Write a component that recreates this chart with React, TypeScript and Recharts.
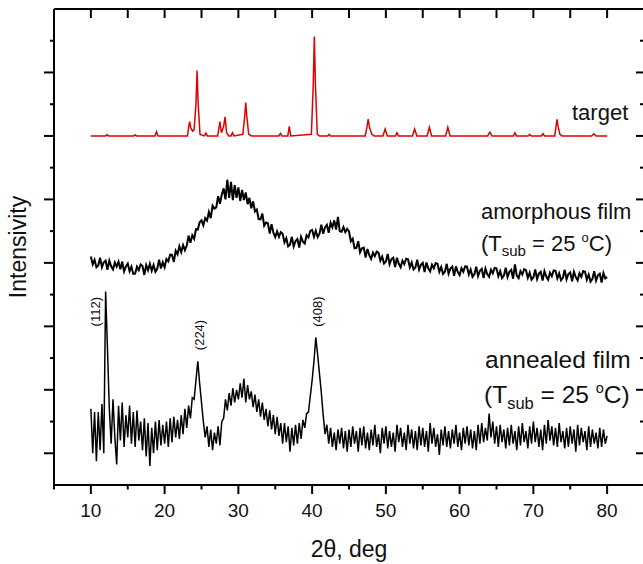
import { LineChart, Line, XAxis, YAxis } from 'recharts';

const FONT = 'Arial, "Liberation Sans", sans-serif';
const INK = '#111';

// 2θ grid of the two film scans: 10° .. 80° every 0.25°
const X_START = 10;
const X_STEP = 0.25;

const X_TICKS = [5, 10, 15, 20, 25, 30, 35, 40, 45, 50, 55, 60, 65, 70, 75, 80, 85];
const X_LABELLED = [10, 20, 30, 40, 50, 60, 70, 80];
const Y_TICKS = [1, 2, 3, 4, 5, 6, 7, 8, 9, 10, 11, 12, 13, 14];

// amorphous film (offset curve, middle)
const amorphousY = [
  7.20, 6.95, 7.09, 6.86, 6.92, 7.16, 6.86, 7.02, 7.07, 6.78, 7.07, 6.89, 6.79, 7.01, 6.88, 7.04, 6.80, 7.04, 6.73, 6.89, // 10-14
  6.98, 6.73, 6.88, 6.65, 6.66, 6.88, 6.77, 6.95, 6.90, 6.62, 6.93, 6.77, 6.97, 6.75, 6.93, 6.72, 6.82, 7.10, 6.82, 7.02, // 15-19
  6.86, 7.12, 7.05, 7.26, 7.25, 7.03, 7.38, 7.27, 7.52, 7.34, 7.56, 7.40, 7.54, 7.86, 7.63, 7.87, 7.76, 8.06, 8.05, 8.28, // 20-24
  8.34, 8.18, 8.41, 8.33, 8.60, 8.41, 8.80, 8.71, 8.75, 9.10, 8.86, 9.15, 9.35, 9.00, 9.62, 9.05, 9.55, 8.98, 9.45, 9.05, // 25-29
  9.38, 8.95, 9.30, 8.98, 9.22, 8.85, 9.05, 8.72, 8.94, 8.62, 8.68, 8.38, 8.37, 8.55, 8.17, 8.27, 8.25, 7.92, 8.22, 7.95, // 30-34
  7.81, 7.99, 7.82, 7.97, 7.92, 7.65, 7.78, 7.52, 7.57, 7.82, 7.52, 7.69, 7.75, 7.48, 7.82, 7.67, 7.61, 7.87, 7.80, 8.01, // 35-39
  8.04, 7.82, 8.01, 7.81, 7.92, 8.20, 7.92, 8.12, 8.20, 7.95, 8.27, 8.12, 8.34, 8.05, 8.45, 8.00, 7.98, 8.13, 7.97, 8.07, // 40-44
  7.99, 7.68, 7.76, 7.46, 7.47, 7.68, 7.33, 7.46, 7.48, 7.17, 7.44, 7.24, 7.12, 7.32, 7.21, 7.35, 7.32, 7.07, 7.20, 6.98, // 45-49
  7.04, 7.28, 6.96, 7.12, 7.16, 6.87, 7.16, 6.97, 6.86, 7.07, 6.96, 7.13, 7.11, 6.86, 7.01, 6.79, 6.85, 7.10, 6.79, 6.94, // 50-54
  7.00, 6.71, 7.01, 6.83, 6.73, 6.94, 6.83, 6.99, 6.97, 6.72, 6.87, 6.65, 6.72, 6.97, 6.66, 6.82, 6.88, 6.59, 6.89, 6.71, // 55-59
  6.61, 6.83, 6.72, 6.89, 6.88, 6.63, 6.79, 6.56, 6.64, 6.88, 6.58, 6.75, 6.81, 6.52, 6.82, 6.65, 6.56, 6.78, 6.67, 6.84, // 60-64
  6.83, 6.58, 6.74, 6.52, 6.60, 6.85, 6.55, 6.72, 6.78, 6.50, 6.95, 6.60, 6.52, 6.74, 6.63, 6.80, 6.77, 6.53, 6.69, 6.47, // 65-69
  6.54, 6.79, 6.49, 6.66, 6.72, 6.44, 6.74, 6.57, 6.47, 6.69, 6.58, 6.76, 6.75, 6.51, 6.67, 6.45, 6.53, 6.78, 6.48, 6.65, // 70-74
  6.70, 6.42, 6.72, 6.55, 6.45, 6.67, 6.56, 6.74, 6.72, 6.47, 6.63, 6.41, 6.49, 6.74, 6.44, 6.61, 6.66, 6.38, 6.68, 6.51, // 75-79
  6.55,
];

// annealed film (bottom curve)
const annealedY = [
  2.40, 1.00, 2.30, 0.75, 2.30, 1.10, 2.55, 1.00, 6.10, 4.30, 2.40, 1.30, 2.70, 1.50, 0.65, 2.50, 1.40, 2.60, 1.20, 2.20, // 10-14
  1.50, 2.50, 1.30, 2.30, 1.20, 2.35, 1.40, 2.00, 1.10, 2.10, 0.90, 1.95, 0.60, 1.80, 1.00, 2.00, 1.10, 2.05, 1.25, 1.90, // 15-19
  1.30, 2.00, 1.20, 2.10, 1.35, 2.15, 1.50, 2.05, 1.45, 2.20, 1.60, 2.40, 1.80, 2.50, 2.10, 2.75, 2.70, 3.30, 3.90, 3.20, // 20-24
  2.60, 2.00, 1.50, 1.85, 1.20, 1.75, 1.10, 1.65, 1.30, 1.85, 1.25, 2.00, 2.10, 2.70, 2.35, 2.90, 2.50, 3.05, 2.60, 3.00, // 25-29
  2.70, 3.20, 2.75, 3.35, 2.60, 3.15, 2.70, 2.95, 2.45, 2.85, 2.30, 2.70, 2.15, 2.60, 2.05, 2.40, 1.85, 2.35, 1.75, 2.20, // 30-34
  1.60, 2.15, 1.55, 1.95, 1.30, 1.95, 1.35, 1.85, 1.05, 1.80, 1.25, 1.90, 1.30, 1.95, 1.45, 2.05, 1.80, 2.25, 2.30, 2.80, // 35-39
  3.30, 3.90, 4.65, 4.10, 3.50, 2.90, 2.20, 1.60, 1.90, 1.30, 1.80, 1.20, 1.65, 1.10, 1.75, 1.30, 1.80, 1.15, 1.70, 1.05, // 40-44
  1.75, 1.20, 1.85, 1.30, 1.70, 1.05, 1.80, 1.25, 1.85, 1.15, 1.65, 1.10, 1.75, 1.25, 1.90, 1.20, 1.60, 1.00, 1.80, 1.30, // 45-49
  1.85, 1.15, 1.70, 1.20, 1.65, 1.05, 1.90, 1.35, 1.80, 1.20, 1.65, 1.10, 1.90, 1.30, 1.75, 1.15, 1.70, 1.10, 1.85, 1.25, // 50-54
  1.80, 1.20, 1.70, 1.05, 1.95, 1.30, 1.80, 1.20, 1.60, 0.95, 1.75, 1.25, 1.85, 1.20, 1.70, 1.15, 1.75, 1.30, 1.90, 1.20, // 55-59
  1.65, 1.10, 1.80, 1.30, 1.85, 1.25, 1.75, 1.15, 1.70, 1.10, 1.90, 1.30, 1.95, 1.35, 1.80, 1.40, 2.25, 1.50, 2.00, 1.30, // 60-64
  1.85, 1.20, 1.90, 1.35, 1.75, 1.15, 1.80, 1.25, 1.90, 1.30, 1.70, 1.10, 1.85, 1.25, 1.95, 1.35, 1.70, 1.15, 1.85, 1.30, // 65-69
  2.00, 1.35, 1.80, 1.20, 1.75, 1.10, 1.90, 1.30, 2.05, 1.40, 1.85, 1.25, 1.80, 1.20, 1.95, 1.35, 1.70, 1.15, 1.80, 1.20, // 70-74
  1.85, 1.30, 1.75, 1.05, 1.90, 1.25, 1.80, 1.35, 1.70, 1.10, 1.85, 1.20, 1.75, 1.30, 1.65, 1.15, 1.80, 1.20, 1.75, 1.30, // 75-79
  1.55,
];

// target (reference pattern, red, top)
const targetX = [
  10.0, 12.0, 12.2, 12.4, 15.8, 16.0, 16.2, 18.7, 18.9, 19.1,
  23.1, 23.3, 23.4, 23.55, 23.8, 24.0, 24.25, 24.4, 24.55, 24.8,
  25.4, 25.6, 25.8, 27.2, 27.5, 27.7, 28.0, 28.2, 28.4, 28.7,
  29.0, 29.2, 29.4, 30.6, 30.85, 31.0, 31.15, 31.4, 31.8,
  35.5, 35.7, 35.9, 36.7, 36.9, 37.1,
  39.9, 40.15, 40.3, 40.45, 40.7, 41.0, 42.1, 42.3, 42.5,
  47.2, 47.45, 47.6, 47.8, 48.1, 48.4, 49.6, 49.9, 50.2, 51.3, 51.5, 51.7,
  53.6, 53.9, 54.2, 55.6, 55.9, 56.2, 58.1, 58.4, 58.7,
  63.8, 64.1, 64.4, 67.3, 67.5, 67.7, 69.3, 69.5, 69.7, 71.1, 71.3, 71.5,
  72.9, 73.1, 73.2, 73.35, 73.6, 73.9, 77.9, 78.2, 78.5, 80.0,
];
const targetY = [
  11.0, 11.0, 11.04, 11.0, 11.0, 11.03, 11.0, 11.0, 11.13, 11.0,
  11.0, 11.35, 11.45, 11.25, 11.15, 11.2, 12.0, 13.06, 12.0, 11.05,
  11.0, 11.09, 11.0, 11.0, 11.45, 11.1, 11.3, 11.6, 11.1, 11.0,
  11.0, 11.1, 11.0, 11.05, 11.6, 12.05, 11.6, 11.05, 11.0,
  11.0, 11.08, 11.0, 11.0, 11.3, 11.0,
  11.05, 12.6, 14.13, 12.6, 11.05, 11.0, 11.0, 11.05, 11.0,
  11.0, 11.3, 11.53, 11.25, 11.05, 11.0, 11.0, 11.22, 11.0, 11.0, 11.1, 11.0,
  11.0, 11.22, 11.0, 11.0, 11.27, 11.0, 11.0, 11.27, 11.0,
  11.0, 11.12, 11.0, 11.0, 11.1, 11.0, 11.0, 11.05, 11.0, 11.0, 11.07, 11.0,
  11.0, 11.35, 11.52, 11.3, 11.05, 11.0, 11.0, 11.07, 11.0, 11.0,
];

const amorphousData = amorphousY.map((y, i) => ({ x: X_START + i * X_STEP, y }));
const annealedData = annealedY.map((y, i) => ({ x: X_START + i * X_STEP, y }));
const targetData = targetX.map((x, i) => ({ x, y: targetY[i] }));

const axisLine = { stroke: '#000', strokeWidth: 2 };

// bottom: long ticks at multiples of 10 (with labels), short ones between
function BottomTick(props: any) {
  const { x, y, payload } = props;
  const v = payload.value;
  const major = v % 10 === 0;
  return (
    <g>
      <line x1={x} x2={x} y1={y} y2={y + (major ? 9 : 4.5)} stroke="#000" strokeWidth={2} />
      {X_LABELLED.includes(v) && (
        <text x={x} y={y + 32} textAnchor="middle" fontSize={19} fill={INK} fontFamily={FONT}>{v}</text>
      )}
    </g>
  );
}

// top: all ticks same length, pointing into the plot
function TopTick(props: any) {
  const { x, y } = props;
  return <line x1={x} x2={x} y1={y} y2={y + 9} stroke="#000" strokeWidth={2} />;
}

// left: odd values long, even values short, pointing out
function LeftTick(props: any) {
  const { x, y, payload } = props;
  const len = payload.value % 2 === 1 ? 10 : 4;
  return <line x1={x - len} x2={x} y1={y} y2={y} stroke="#000" strokeWidth={2} />;
}

// right: pointing into the plot
function RightTick(props: any) {
  const { x, y, payload } = props;
  const len = payload.value % 2 === 1 ? 8 : 4;
  return <line x1={x - len} x2={x} y1={y} y2={y} stroke="#000" strokeWidth={2} />;
}

export default function App() {
  return (
    <div style={{ position: 'absolute', left: 0, top: 0, width: 643, height: 564, overflow: 'hidden', background: '#fff' }}>
      <LineChart width={660} height={564} margin={{ top: 8, right: 15, bottom: 78, left: 53 }}>
        <XAxis
          xAxisId="b"
          dataKey="x"
          type="number"
          domain={[5, 85]}
          ticks={X_TICKS}
          interval={0}
          allowDataOverflow
          height={1}
          tickSize={0}
          tickMargin={0}
          axisLine={axisLine}
          tickLine={false}
          tick={<BottomTick />}
          label={{ value: '2θ, deg', position: 'bottom', offset: 55, fontSize: 23, fill: INK, fontFamily: FONT }}
        />
        <XAxis xAxisId="t" orientation="top" dataKey="x" type="number" domain={[5, 85]} ticks={X_TICKS} interval={0}
          allowDataOverflow height={1} tickSize={0} tickMargin={0} axisLine={axisLine} tickLine={false} tick={<TopTick />} />
        <YAxis
          yAxisId="l"
          type="number"
          domain={[0, 15]}
          ticks={Y_TICKS}
          interval={0}
          allowDataOverflow
          width={1}
          tickSize={0}
          tickMargin={0}
          axisLine={axisLine}
          tickLine={false}
          tick={<LeftTick />}
          label={{ value: 'Intensivity', angle: -90, position: 'left', offset: 35, fontSize: 23, fill: INK, fontFamily: FONT, style: { textAnchor: 'middle' } }}
        />
        <YAxis yAxisId="r" orientation="right" type="number" domain={[0, 15]} ticks={Y_TICKS} interval={0} width={1}
          allowDataOverflow tickSize={0} tickMargin={0} axisLine={axisLine} tickLine={false} tick={<RightTick />} />

        {/* the target pattern is bound to the mirrored top/right axes (same scales) so those get drawn */}
        <Line xAxisId="t" yAxisId="r" data={targetData} dataKey="y" type="linear" stroke="#e00000"
          strokeWidth={1.5} dot={false} activeDot={false} isAnimationActive={false} />
        <Line xAxisId="b" yAxisId="l" data={amorphousData} dataKey="y" type="linear" stroke="#000"
          strokeWidth={2} dot={false} activeDot={false} isAnimationActive={false} />
        <Line xAxisId="b" yAxisId="l" data={annealedData} dataKey="y" type="linear" stroke="#000"
          strokeWidth={1.5} dot={false} activeDot={false} isAnimationActive={false} />
      </LineChart>

      <svg width={643} height={564} style={{ position: 'absolute', left: 0, top: 0, pointerEvents: 'none' }}
        fontFamily={FONT} fill={INK}>
        <text x={572} y={120} fontSize={22}>target</text>

        <text x={481} y={219} fontSize={22}>amorphous film</text>
        <text x={481} y={251} fontSize={22} style={{ whiteSpace: 'pre' }}>
          (T<tspan fontSize={15} dy={5}>sub</tspan><tspan dy={-5}>{' = 25 '}</tspan>
          <tspan fontSize={13} dy={-9}>o</tspan><tspan dy={9}>C)</tspan>
        </text>

        <text x={485} y={368} fontSize={24.5}>annealed film</text>
        <text x={484} y={403} fontSize={24.5} style={{ whiteSpace: 'pre' }}>
          (T<tspan fontSize={16.5} dy={5.5}>sub</tspan><tspan dy={-5.5}>{' = 25 '}</tspan>
          <tspan fontSize={14.5} dy={-10}>o</tspan><tspan dy={10}>C)</tspan>
        </text>

        <text transform="translate(95.5,311.7) rotate(-90)" textAnchor="middle" dominantBaseline="central" fontSize={13}>(112)</text>
        <text transform="translate(199,335) rotate(-90)" textAnchor="middle" dominantBaseline="central" fontSize={13}>(224)</text>
        <text transform="translate(317,311.7) rotate(-90)" textAnchor="middle" dominantBaseline="central" fontSize={13}>(408)</text>
      </svg>
    </div>
  );
}
